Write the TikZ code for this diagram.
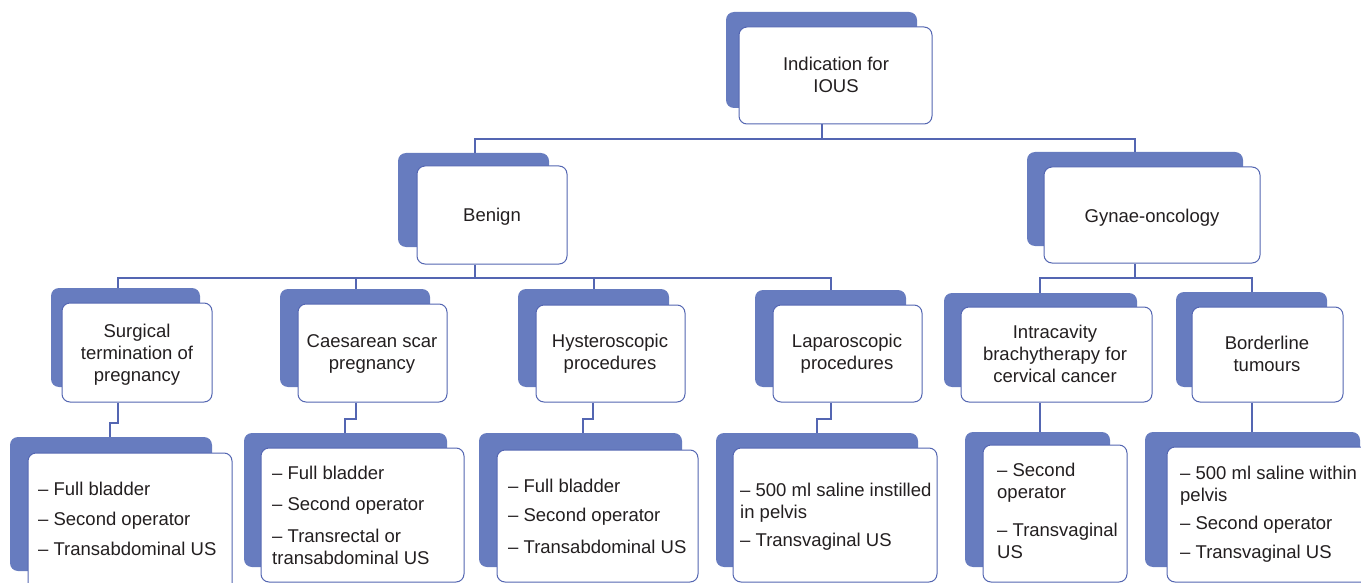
\documentclass[tikz,border=0pt]{standalone}
\usepackage{fontspec}
\setmainfont{Liberation Sans}
\usetikzlibrary{fit}
\definecolor{backblue}{RGB}{103,124,191}
\definecolor{lineblue}{RGB}{84,102,178}
\definecolor{txt}{RGB}{35,31,32}
\begin{document}
\begin{tikzpicture}[x=1pt,y=-1pt,
  backbox/.style={fill=backblue, draw=none, rounded corners=8pt, inner sep=0pt},
  frontbox/.style={fill=white, draw=lineblue, line width=1pt, rounded corners=8pt, inner sep=0pt},
  label/.style={align=center, text=txt, font=\fontsize{18.5}{22}\selectfont, inner sep=0pt},
  itemtext/.style={align=left, text=txt, font=\fontsize{18.5}{22}\selectfont, inner sep=0pt, anchor=west},
  conn/.style={draw=lineblue, line width=1.2pt}]
\useasboundingbox (0,0) rectangle (1361,583);

% ---------- level 1
\node[backbox, fit={(726,12) (917,108)}] (topb) {};
\node[frontbox, fit={(739,27) (932,124)}] (top) {};
\node[label] (topt) at (836,75) {Indication for\\IOUS};

% ---------- level 2
\node[backbox, fit={(398,153) (549,247)}] (benb) {};
\node[frontbox, fit={(417,166) (567,264)}] (ben) {};
\node[label] (bent) at (492,217) {Benign};
\node[backbox, fit={(1027,152) (1243,246)}] (gynb) {};
\node[frontbox, fit={(1044,167) (1260,263)}] (gyn) {};
\node[label] (gynt) at (1152,218) {Gynae-oncology};

% ---------- level 3
\node[backbox, fit={(51,288) (200,387)}] (surb) {};
\node[frontbox, fit={(62,303) (212,402)}] (sur) {};
\node[label] (surt) at (137,355) {Surgical\\termination of\\pregnancy};
\node[backbox, fit={(280,289) (430,387)}] (caeb) {};
\node[frontbox, fit={(298,304) (447,402)}] (cae) {};
\node[label] (caet) at (372,353.5) {Caesarean scar\\pregnancy};
\node[backbox, fit={(518,289) (669,387)}] (hysb) {};
\node[frontbox, fit={(536,305) (685,402)}] (hys) {};
\node[label] (hyst) at (610,353.5) {Hysteroscopic\\procedures};
\node[backbox, fit={(755,290) (906,387)}] (lapb) {};
\node[frontbox, fit={(773,305) (922,402)}] (lap) {};
\node[label] (lapt) at (847,353.5) {Laparoscopic\\procedures};
\node[backbox, fit={(944,293) (1137,387)}] (intb) {};
\node[frontbox, fit={(961,307) (1152,402)}] (int) {};
\node[label] (intt) at (1055,354) {Intracavity\\brachytherapy for\\cervical cancer};
\node[backbox, fit={(1176,292) (1327,387)}] (borb) {};
\node[frontbox, fit={(1192,307) (1343,402)}] (bor) {};
\node[label] (bort) at (1267,354) {Borderline\\tumours};

% ---------- level 4
\node[backbox, fit={(10,437) (212,571)}] (b1b) {};
\node[frontbox, fit={(28,453) (232,595)}] (b1) {};
\node[itemtext] (t1) at (38,519) {– Full bladder\\[8pt]– Second operator\\[8pt]– Transabdominal US};

\node[backbox, fit={(244,433) (447,567)}] (b2b) {};
\node[frontbox, fit={(261,448) (464,582)}] (b2) {};
\node[itemtext] (t2) at (272,515.5) {– Full bladder\\[9pt]– Second operator\\[10pt]– Transrectal or\\transabdominal US};

\node[backbox, fit={(479,433) (682,567)}] (b3b) {};
\node[frontbox, fit={(497,450) (698,582)}] (b3) {};
\node[itemtext] (t3) at (508,516.5) {– Full bladder\\[7pt]– Second operator\\[10pt]– Transabdominal US};

\node[backbox, fit={(716,433) (918,567)}] (b4b) {};
\node[frontbox, fit={(733,448) (937,582)}] (b4) {};
\node[itemtext] (t4) at (740,516.5) {– 500 ml saline instilled\\in pelvis\\[6pt]– Transvaginal US};

\node[backbox, fit={(965,432) (1110,567)}] (b5b) {};
\node[frontbox, fit={(983,445) (1127,582)}] (b5) {};
\node[itemtext] (t5) at (997,510.5) {– Second\\operator\\[16pt]– Transvaginal\\US};

\node[backbox, fit={(1145,432) (1360,567)}] (b6b) {};
\node[frontbox, fit={(1167,447) (1385,582)}] (b6) {};
\node[itemtext] (t6) at (1180,514.5) {– 500 ml saline within\\pelvis\\[6pt]– Second operator\\[7pt]– Transvaginal US};

% ---------- connectors
\coordinate (c0) at (822,139);
\coordinate (c0l) at (475,139);
\coordinate (c0r) at (1135,139);
\draw[conn] (top.south -| c0) -- (c0);
\draw[conn] (c0l |- benb.north) -- (c0l) -- (c0r) -- (c0r |- gynb.north);

\coordinate (c1) at (475,278);
\coordinate (h1) at (118,278);
\coordinate (h2) at (356,278);
\coordinate (h3) at (594,278);
\coordinate (h4) at (831,278);
\draw[conn] (ben.south -| c1) -- (c1);
\draw[conn] (h1 |- surb.north) -- (h1) -- (h4) -- (h4 |- lapb.north);
\draw[conn] (h2) -- (h2 |- caeb.north);
\draw[conn] (h3) -- (h3 |- hysb.north);

\coordinate (c2) at (1135,278);
\coordinate (g1) at (1040,278);
\coordinate (g2) at (1252,278);
\draw[conn] (gyn.south -| c2) -- (c2);
\draw[conn] (g1 |- intb.north) -- (g1) -- (g2) -- (g2 |- borb.north);

\coordinate (s1) at (118,423); \coordinate (s2) at (110,423);
\draw[conn] (sur.south -| s1) -- (s1) -- (s2) -- (s2 |- b1b.north);
\coordinate (k1) at (356,419); \coordinate (k2) at (345,419);
\draw[conn] (cae.south -| k1) -- (k1) -- (k2) -- (k2 |- b2b.north);
\coordinate (y1) at (593,419); \coordinate (y2) at (583,419);
\draw[conn] (hys.south -| y1) -- (y1) -- (y2) -- (y2 |- b3b.north);
\coordinate (l1) at (831,419); \coordinate (l2) at (817,419);
\draw[conn] (lap.south -| l1) -- (l1) -- (l2) -- (l2 |- b4b.north);
\coordinate (i1) at (1040,402);
\draw[conn] (int.south -| i1) -- (i1 |- b5b.north);
\coordinate (o1) at (1252,402);
\draw[conn] (bor.south -| o1) -- (o1 |- b6b.north);
\end{tikzpicture}
\end{document}
